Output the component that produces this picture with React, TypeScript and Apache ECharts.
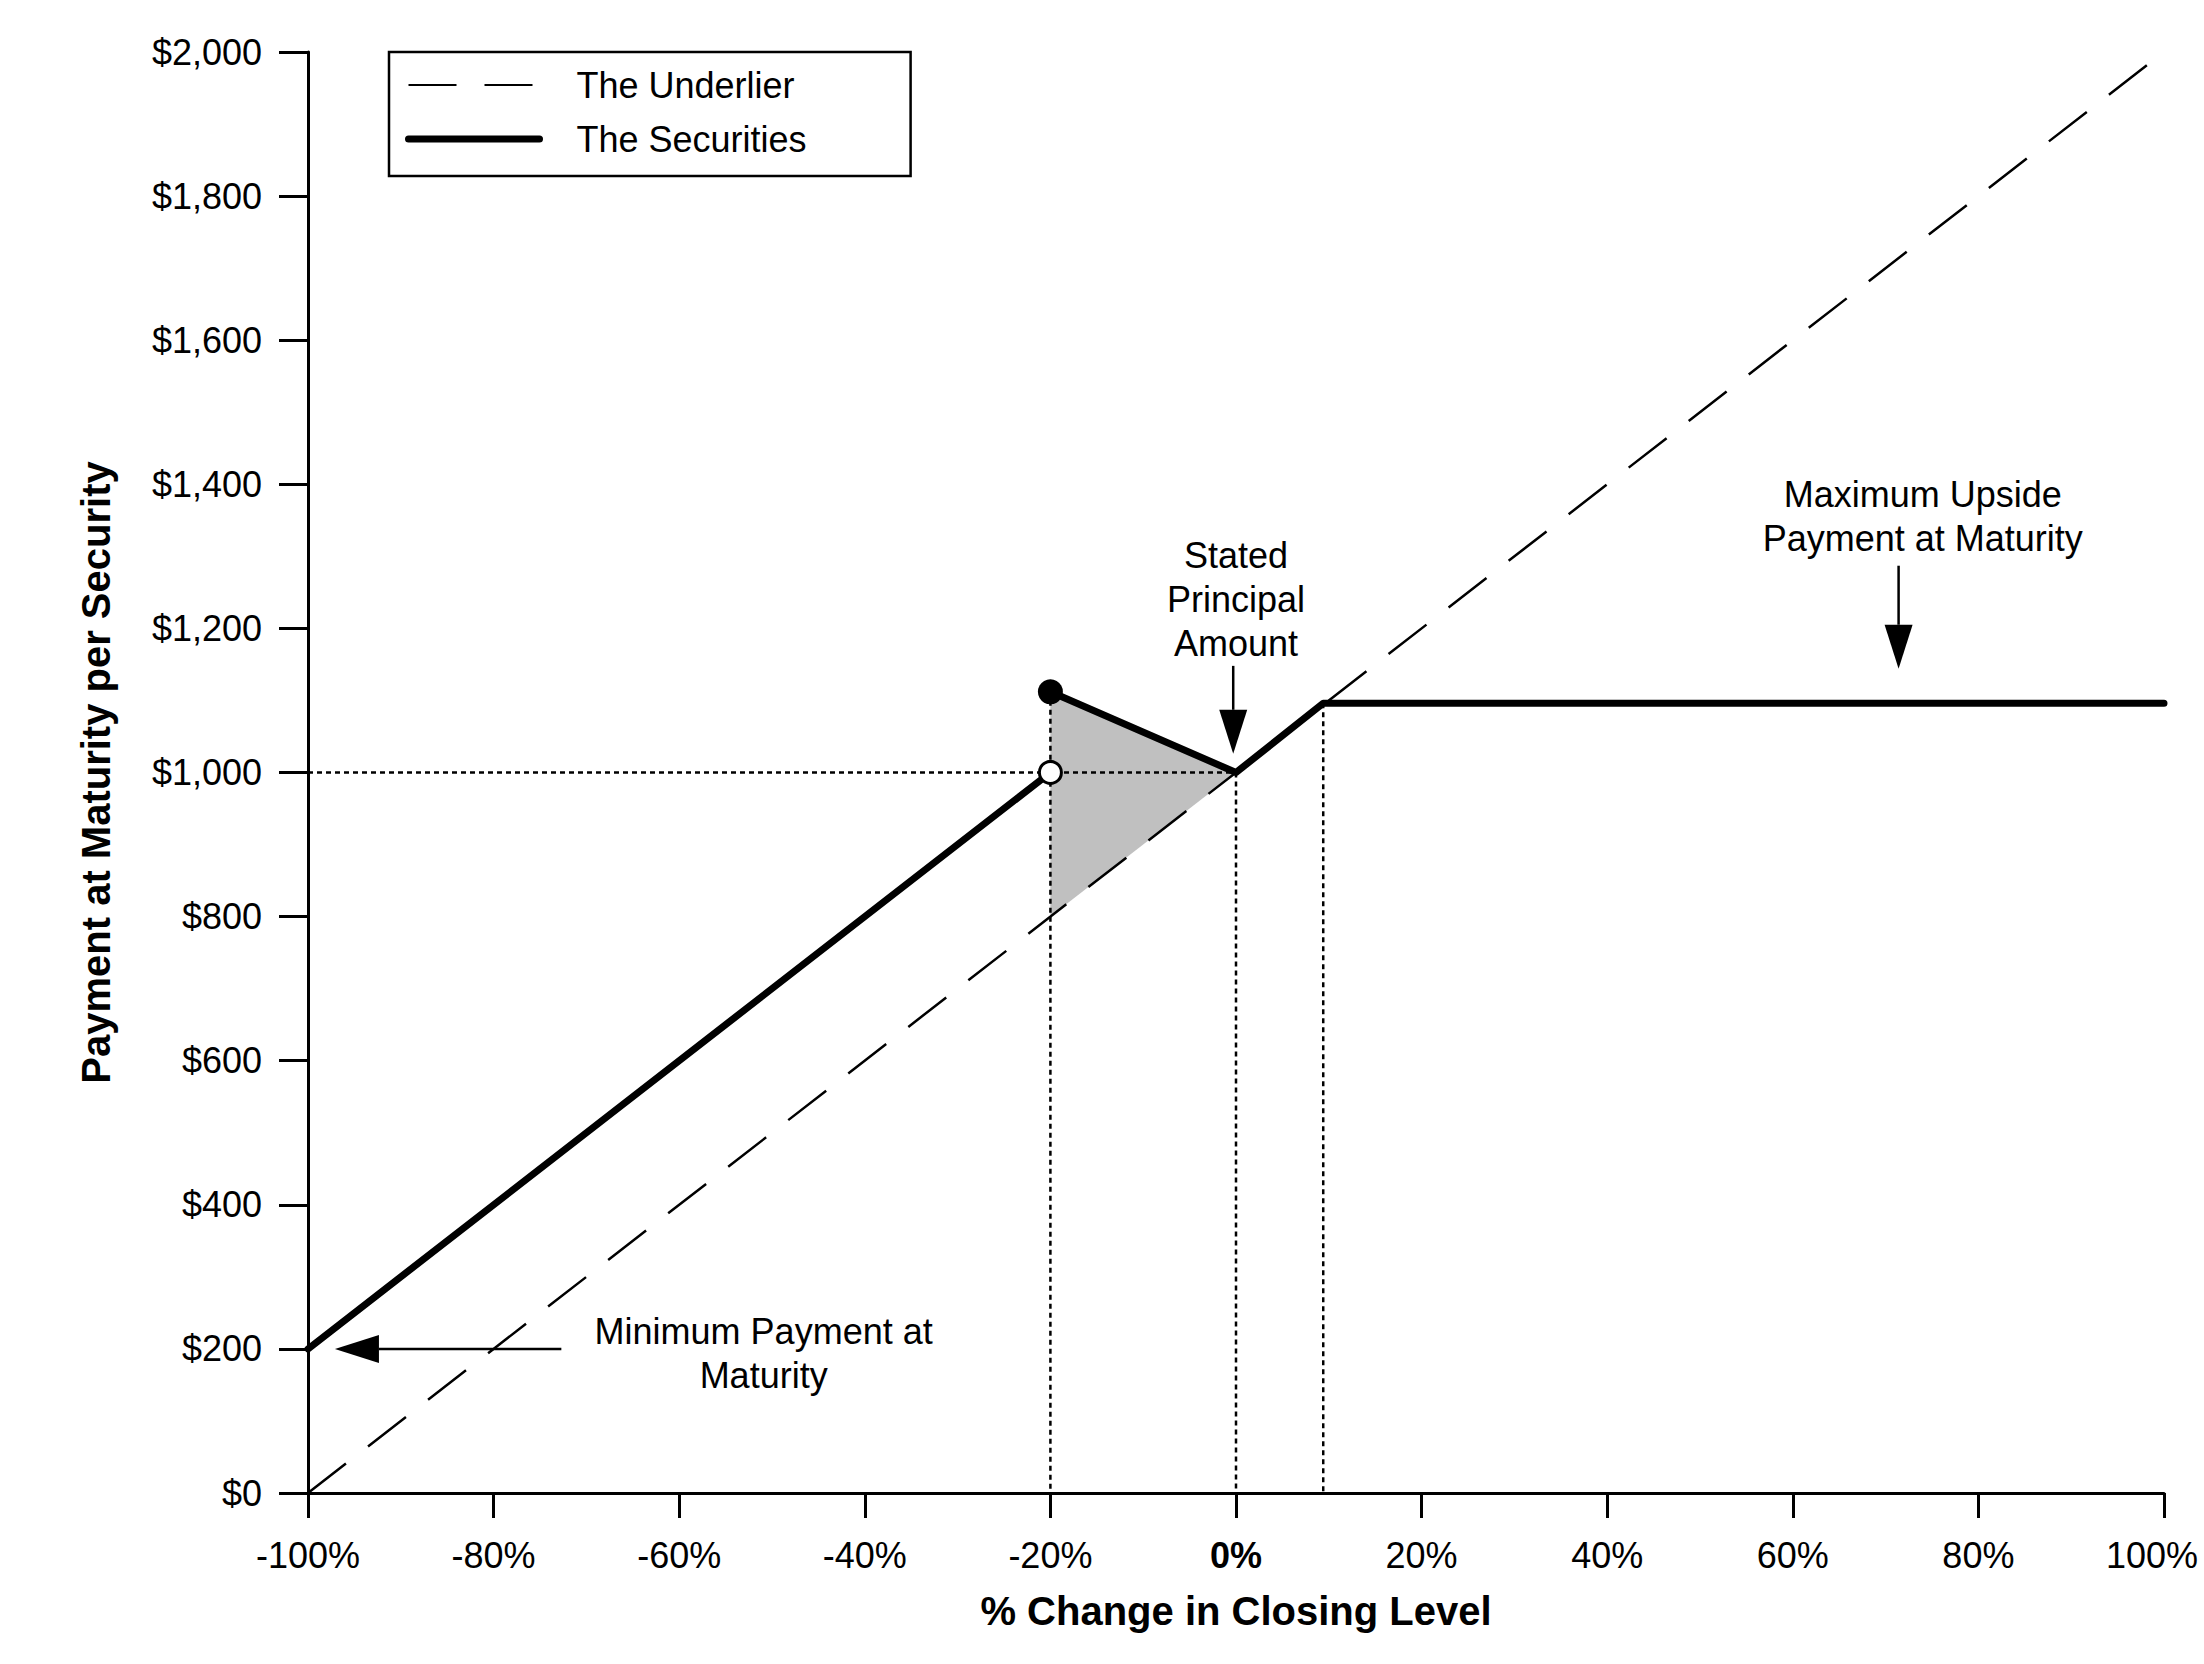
import React, { useEffect, useRef } from "react";
import * as echarts from "echarts";

const FONT = '"Liberation Sans", Arial, Helvetica, sans-serif';

// Axis ranges / ticks
const X_MIN = -100;
const X_MAX = 100;
const X_STEP = 20;
const Y_MIN = 0;
const Y_MAX = 2000;
const Y_STEP = 200;

// Series data (x = % change in closing level, y = payment in $)
const UNDERLIER: [number, number][] = [
  [-100, 0],
  [100, 2000],
];
const SECURITIES_LOW: [number, number][] = [
  [-100, 200],
  [-20, 1000],
];
const SECURITIES_HIGH: [number, number][] = [
  [-20, 1112],
  [0, 1000],
  [9.4, 1096],
  [100, 1096],
];
const FILLED_DOT: [number, number] = [-20, 1112];
const OPEN_DOT: [number, number] = [-20, 1000];
const SHADE: [number, number][] = [
  [-20, 1112],
  [0, 1000],
  [-20, 800],
];
const GUIDES: [number, number][][] = [
  [
    [-100, 1000],
    [0, 1000],
  ],
  [
    [-20, 1112],
    [-20, 0],
  ],
  [
    [0, 1000],
    [0, 0],
  ],
  [
    [9.4, 1096],
    [9.4, 0],
  ],
];

const ANNOTATIONS = [
  {
    lines: ["Stated", "Principal", "Amount"],
    at: [0, 1240],
    from: [-0.3, 1148],
    to: [-0.3, 1026],
  },
  {
    lines: ["Maximum Upside", "Payment at Maturity"],
    at: [74, 1355],
    from: [71.4, 1287],
    to: [71.4, 1144],
  },
  {
    lines: ["Minimum Payment at", "Maturity"],
    at: [-50.9, 193],
    from: [-72.7, 200],
    to: [-97.1, 200],
  },
];

const LEGEND_NAMES = ["The Underlier", "The Securities"];

function buildGuideData() {
  const out: any[] = [];
  GUIDES.forEach((g, i) => {
    if (i > 0) out.push(["-", "-"]);
    g.forEach((p) => out.push(p));
  });
  return out;
}

export default function App() {
  const ref = useRef<HTMLDivElement>(null);

  useEffect(() => {
    if (!ref.current) return;
    const chart = echarts.init(ref.current, undefined, { renderer: "svg" });

    const option: any = {
      animation: false,
      backgroundColor: "#ffffff",
      textStyle: { fontFamily: FONT, color: "#000" },
      grid: {
        left: 308,
        right: 40,
        top: 52,
        bottom: 171,
        containLabel: false,
        outerBoundsMode: "none",
      },
      legend: {
        data: [
          { name: LEGEND_NAMES[0] },
          { name: LEGEND_NAMES[1], lineStyle: { width: 7, cap: "round", color: "#000" } },
        ],
        orient: "vertical",
        left: 389,
        top: 52,
        padding: [13, 104, 17, 16],
        itemGap: 14,
        itemWidth: 131,
        itemHeight: 14,
        borderColor: "#000",
        borderWidth: 2.5,
        backgroundColor: "#fff",
        itemStyle: { opacity: 0 },
        selectedMode: false,
        textStyle: {
          fontFamily: FONT,
          fontSize: 36,
          color: "#000",
          lineHeight: 40,
          padding: [0, 0, 0, 32],
        },
      },
      xAxis: {
        type: "value",
        min: X_MIN,
        max: X_MAX,
        interval: X_STEP,
        name: "% Change in Closing Level",
        nameLocation: "middle",
        nameGap: 118,
        nameTextStyle: {
          fontFamily: FONT,
          fontSize: 40,
          fontWeight: "bold",
          color: "#000",
          verticalAlign: "middle",
        },
        splitLine: { show: false },
        axisLine: { show: true, onZero: false, lineStyle: { color: "#000", width: 3 } },
        axisTick: { show: true, length: 25, lineStyle: { color: "#000", width: 3 } },
        axisLabel: {
          margin: 62,
          verticalAlign: "middle",
          fontFamily: FONT,
          fontSize: 36,
          color: "#000",
          formatter: (v: number) =>
            v === 0 ? "{b|0%}" : v === X_MAX ? `{e|${v}%}` : `${v}%`,
          rich: {
            b: { fontFamily: FONT, fontSize: 36, fontWeight: "bold", color: "#000" },
            e: { fontFamily: FONT, fontSize: 36, color: "#000", padding: [0, 24, 0, 0] },
          },
        },
      },
      yAxis: {
        type: "value",
        min: Y_MIN,
        max: Y_MAX,
        interval: Y_STEP,
        name: "Payment at Maturity per Security",
        nameLocation: "middle",
        nameGap: 212,
        nameRotate: 90,
        nameTextStyle: {
          fontFamily: FONT,
          fontSize: 40,
          fontWeight: "bold",
          color: "#000",
          verticalAlign: "middle",
          align: "center",
        },
        splitLine: { show: false },
        axisLine: { show: true, onZero: false, lineStyle: { color: "#000", width: 3 } },
        axisTick: { show: true, length: 29, lineStyle: { color: "#000", width: 3 } },
        axisLabel: {
          margin: 46,
          fontFamily: FONT,
          fontSize: 36,
          color: "#000",
          formatter: (v: number) => "$" + v.toLocaleString("en-US"),
        },
      },
      series: [
        {
          type: "custom",
          name: "shade",
          silent: true,
          z: 1,
          clip: false,
          data: [SHADE[0]],
          encode: { x: 0, y: 1 },
          renderItem: (_params: any, api: any) => ({
            type: "polygon",
            shape: { points: SHADE.map((p) => api.coord(p)) },
            style: { fill: "#c0c0c0", stroke: "none" },
          }),
        },
        {
          type: "line",
          name: "guides",
          silent: true,
          z: 2,
          symbol: "none",
          connectNulls: false,
          data: buildGuideData(),
          lineStyle: { color: "#000", width: 2.5, type: [5, 4] },
        },
        {
          type: "line",
          name: "The Underlier",
          silent: true,
          z: 3,
          symbol: "none",
          data: UNDERLIER,
          itemStyle: { color: "#000" },
          lineStyle: { color: "#000", width: 2.5, type: [48, 28] },
        },
        {
          type: "line",
          name: "The Securities",
          silent: true,
          z: 4,
          symbol: "none",
          connectNulls: false,
          data: [...SECURITIES_LOW, ["-", "-"], ...SECURITIES_HIGH],
          itemStyle: { color: "#000" },
          lineStyle: { color: "#000", width: 7, cap: "round", join: "round" },
        },
        {
          type: "scatter",
          name: "dots",
          silent: true,
          z: 5,
          symbol: "circle",
          data: [
            {
              value: FILLED_DOT,
              symbolSize: 25,
              itemStyle: { color: "#000", opacity: 1 },
            },
            {
              value: OPEN_DOT,
              symbolSize: 22,
              itemStyle: { color: "#fff", borderColor: "#000", borderWidth: 3, opacity: 1 },
            },
          ],
        },
        {
          type: "custom",
          name: "annotations",
          silent: true,
          z: 6,
          clip: false,
          data: ANNOTATIONS.map((a) => a.at),
          encode: { x: 0, y: 1 },
          renderItem: (params: any, api: any) => {
            const a = ANNOTATIONS[params.dataIndex];
            const c = api.coord(a.at);
            const p1 = api.coord(a.from);
            const p2 = api.coord(a.to);
            const dx = p2[0] - p1[0];
            const dy = p2[1] - p1[1];
            const len = Math.hypot(dx, dy) || 1;
            const ux = dx / len;
            const uy = dy / len;
            const headLen = 44;
            const headHalf = 14;
            const bx = p2[0] - ux * headLen;
            const by = p2[1] - uy * headLen;
            const nx = -uy;
            const ny = ux;
            return {
              type: "group",
              children: [
                {
                  type: "text",
                  x: c[0],
                  y: c[1],
                  style: {
                    text: a.lines.join("\n"),
                    fill: "#000",
                    fontSize: 36,
                    fontFamily: FONT,
                    align: "center",
                    verticalAlign: "middle",
                    lineHeight: 44,
                  },
                },
                {
                  type: "line",
                  shape: { x1: p1[0], y1: p1[1], x2: bx, y2: by },
                  style: { stroke: "#000", lineWidth: 2.5 },
                },
                {
                  type: "polygon",
                  shape: {
                    points: [
                      [p2[0], p2[1]],
                      [bx + nx * headHalf, by + ny * headHalf],
                      [bx - nx * headHalf, by - ny * headHalf],
                    ],
                  },
                  style: { fill: "#000" },
                },
              ],
            };
          },
        },
      ],
    };

    chart.setOption(option);
    return () => {
      chart.dispose();
    };
  }, []);

  return (
    <div
      ref={ref}
      style={{
        position: "absolute",
        left: 0,
        top: 0,
        width: "2204px",
        height: "1664px",
        background: "#fff",
      }}
    />
  );
}
